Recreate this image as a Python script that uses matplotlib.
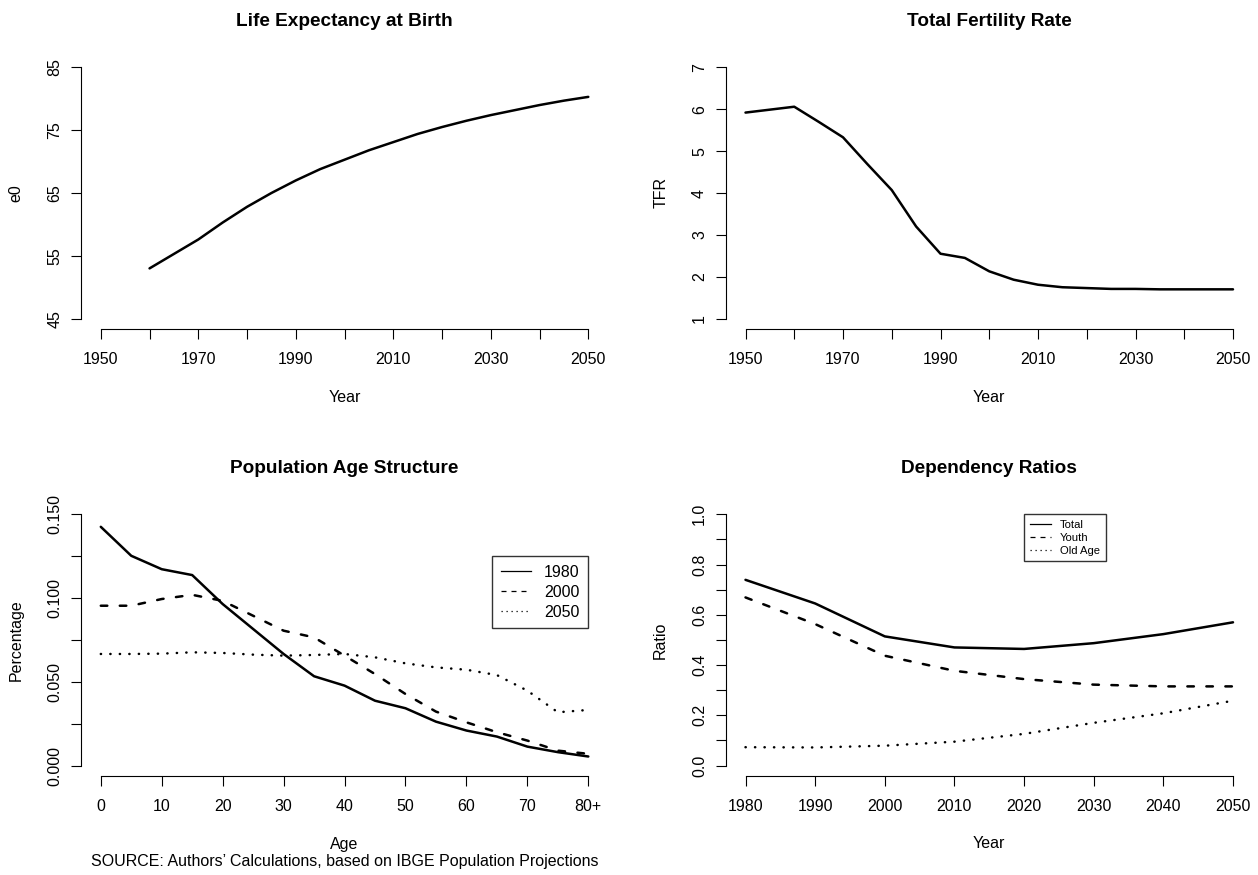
import matplotlib
matplotlib.use('Agg')
import matplotlib.pyplot as plt
from matplotlib.lines import Line2D

plt.rcParams['font.family'] = ['Liberation Sans', 'DejaVu Sans']

# life expectancy at birth
e0_years = list(range(1960, 2051, 5))
e0 = [53.0, 55.3, 57.6, 60.3, 62.8, 65.0, 67.0, 68.8, 70.3, 71.8,
      73.1, 74.4, 75.5, 76.5, 77.4, 78.2, 79.0, 79.7, 80.3]

# total fertility rate
tfr_years = list(range(1950, 2051, 5))
tfr = [5.92, 5.99, 6.06, 5.70, 5.33, 4.69, 4.07, 3.20, 2.55, 2.45, 2.13,
       1.93, 1.81, 1.75, 1.73, 1.71, 1.71, 1.70, 1.70, 1.70, 1.70]

# population age structure (share of population by 5-year age group)
ages = list(range(0, 81, 5))
pop_1980 = [0.1425, 0.1252, 0.1172, 0.1137, 0.0964, 0.0815, 0.0666, 0.0533, 0.0477,
            0.0387, 0.0342, 0.0262, 0.0209, 0.0173, 0.0113, 0.0080, 0.0054]
pop_2000 = [0.0954, 0.0954, 0.0994, 0.1019, 0.0983, 0.0894, 0.0805, 0.0765, 0.0656,
            0.0546, 0.0427, 0.0322, 0.0258, 0.0199, 0.0149, 0.0089, 0.0070]
pop_2050 = [0.0666, 0.0666, 0.0668, 0.0676, 0.0672, 0.0662, 0.0656, 0.0660, 0.0666,
            0.0646, 0.0610, 0.0586, 0.0572, 0.0540, 0.0447, 0.0318, 0.0332]
age_ticks = list(range(0, 81, 10))
age_labels = ['0', '10', '20', '30', '40', '50', '60', '70', '80+']

# dependency ratios
dep_years = list(range(1980, 2051, 10))
dep_total = [0.739, 0.645, 0.514, 0.470, 0.464, 0.487, 0.523, 0.570]
dep_youth = [0.669, 0.563, 0.437, 0.377, 0.344, 0.322, 0.315, 0.315]
dep_old = [0.073, 0.072, 0.079, 0.095, 0.126, 0.170, 0.208, 0.258]

W, H = 1258, 875
fig = plt.figure(figsize=(W / 100, H / 100), dpi=100)


def rect(left, top, w=526.5, h=271.4):
    return [left / W, 1 - (top + h) / H, w / W, h / H]


ax1 = fig.add_axes(rect(81.3, 57.3))
ax2 = fig.add_axes(rect(726, 57.3))
ax3 = fig.add_axes(rect(81.3, 504.2))
ax4 = fig.add_axes(rect(726, 504.2))

LW = 1.8
FS = 11.5
solid = dict(color='black', lw=LW, solid_capstyle='round', solid_joinstyle='round')
dashed = dict(color='black', lw=LW, ls=(0, (2.6, 5.0)), dash_capstyle='round')
dotted = dict(color='black', lw=LW, ls=(0, (0.1, 3.7)), dash_capstyle='round')


def r_axes(ax, xr, yr, xticks, xlabels, yticks, ylabels, title, xlabel, ylabel):
    # R style: 4% padding, detached axes, no box
    dx = (xr[1] - xr[0]) * 0.04
    dy = (yr[1] - yr[0]) * 0.04
    ax.set_xlim(xr[0] - dx, xr[1] + dx)
    ax.set_ylim(yr[0] - dy, yr[1] + dy)
    ax.spines['top'].set_visible(False)
    ax.spines['right'].set_visible(False)
    ax.spines['left'].set_bounds(yticks[0], yticks[-1])
    ax.spines['bottom'].set_bounds(xticks[0], xticks[-1])
    for s in ('left', 'bottom'):
        ax.spines[s].set_linewidth(0.8)
    ax.set_xticks(xticks)
    ax.set_xticklabels(xlabels)
    ax.set_yticks(yticks)
    ax.set_yticklabels(ylabels, rotation=90, va='center')
    ax.tick_params(direction='out', length=7.2, width=0.8, labelsize=FS)
    ax.tick_params(axis='x', pad=9.5)
    ax.tick_params(axis='y', pad=6.5)
    ax.set_title(title, fontsize=13.7, fontweight='bold', pad=22.7)
    ax.set_xlabel(xlabel, fontsize=FS, va='center', linespacing=1.15)
    ax.set_ylabel(ylabel, fontsize=FS, va='center')
    ax.yaxis.set_label_coords(-0.124, 0.5)
    ax.patch.set_visible(False)


def every_other(vals, fmt):
    return [fmt.format(v) if i % 2 == 0 else '' for i, v in enumerate(vals)]


def legend_handles():
    return [Line2D([], [], color='black', lw=0.9),
            Line2D([], [], color='black', lw=0.9, ls=(0, (4, 4))),
            Line2D([], [], color='black', lw=0.9, ls=(0, (1, 3)))]


# panel 1
ax1.plot(e0_years, e0, **solid)
yr10 = list(range(1950, 2051, 10))
r_axes(ax1, (1950, 2050), (45, 85), yr10, every_other(yr10, '{}'),
       [45, 55, 65, 75, 85], ['45', '55', '65', '75', '85'],
       'Life Expectancy at Birth', 'Year', 'e0')
ax1.xaxis.set_label_coords(0.5, -0.2517)

# panel 2
ax2.plot(tfr_years, tfr, **solid)
r_axes(ax2, (1950, 2050), (1, 7), yr10, every_other(yr10, '{}'),
       list(range(1, 8)), [str(v) for v in range(1, 8)],
       'Total Fertility Rate', 'Year', 'TFR')
ax2.xaxis.set_label_coords(0.5, -0.2517)

# panel 3
ax3.plot(ages, pop_1980, **solid)
ax3.plot(ages, pop_2000, **dashed)
ax3.plot(ages, pop_2050, **dotted)
pct_ticks = [0, 0.025, 0.05, 0.075, 0.1, 0.125, 0.15]
r_axes(ax3, (0, 80), (0, 0.15), age_ticks, age_labels,
       pct_ticks, every_other(pct_ticks, '{:.3f}'),
       'Population Age Structure',
       "Age\nSOURCE: Authors\u2019 Calculations, based on IBGE Population Projections",
       'Percentage')
ax3.xaxis.set_label_coords(0.5, -0.285)
leg3 = ax3.legend(legend_handles(), ['1980', '2000', '2050'], loc='upper right',
                  bbox_to_anchor=(80, 0.125), bbox_transform=ax3.transData,
                  borderaxespad=0, fontsize=FS, frameon=True, fancybox=False,
                  handlelength=1.9, handletextpad=0.8, labelspacing=0.3,
                  borderpad=0.55)
leg3.get_frame().set_edgecolor('black')
leg3.get_frame().set_linewidth(1.0)

# panel 4
ax4.plot(dep_years, dep_total, **solid)
ax4.plot(dep_years, dep_youth, **dashed)
ax4.plot(dep_years, dep_old, **dotted)
ratio_ticks = [0, 0.1, 0.2, 0.3, 0.4, 0.5, 0.6, 0.7, 0.8, 0.9, 1.0]
r_axes(ax4, (1980, 2050), (0, 1), dep_years, [str(v) for v in dep_years],
       ratio_ticks, every_other(ratio_ticks, '{:.1f}'),
       'Dependency Ratios', 'Year', 'Ratio')
ax4.xaxis.set_label_coords(0.5, -0.2484)
leg4 = ax4.legend(legend_handles(), ['Total', 'Youth', 'Old Age'], loc='upper left',
                  bbox_to_anchor=(2020, 1.0), bbox_transform=ax4.transData,
                  borderaxespad=0, fontsize=8.1, frameon=True, fancybox=False,
                  handlelength=1.9, handletextpad=0.8, labelspacing=0.25,
                  borderpad=0.5)
leg4.get_frame().set_edgecolor('black')
leg4.get_frame().set_linewidth(1.0)

fig.savefig('out.png', dpi=100)
